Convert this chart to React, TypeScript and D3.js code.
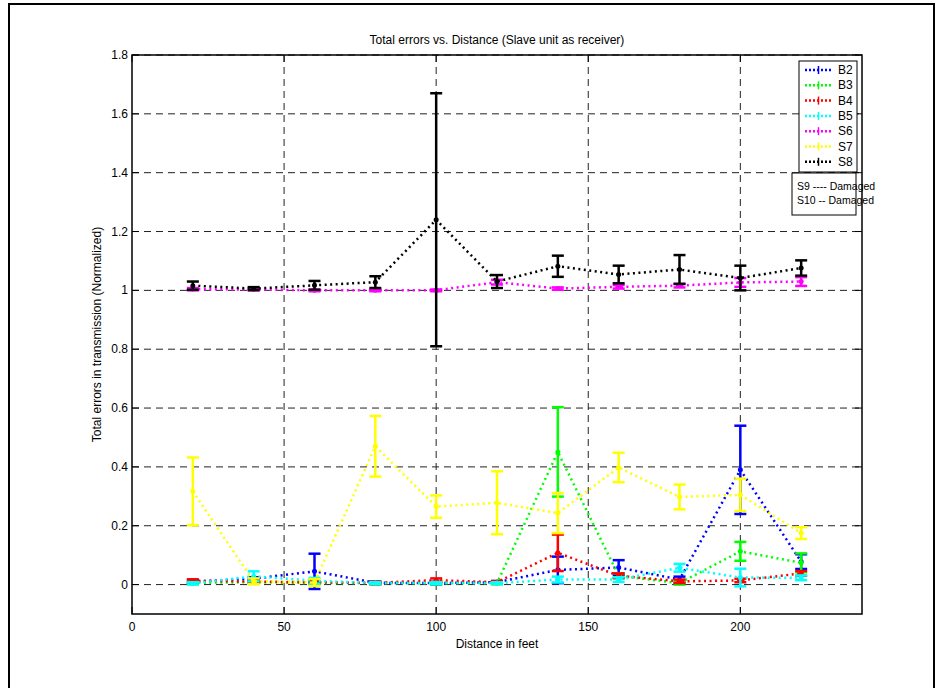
import * as d3 from "d3";
import React from "react";

const distances = [20, 40, 60, 80, 100, 120, 140, 160, 180, 200, 220];

const seriesNames = ["B2", "B3", "B4", "B5", "S6", "S7", "S8"];
const seriesColors = ["#0000ff", "#00ff00", "#ff0000", "#00ffff", "#ff00ff", "#ffff00", "#000000"];

const b2Mean = [0.01, 0.02, 0.045, 0.006, 0.005, 0.008, 0.05, 0.058, 0.017, 0.39, 0.078];
const b2Err = [0.005, 0.005, 0.06, 0.004, 0.004, 0.004, 0.045, 0.025, 0.01, 0.15, 0.025];
const b3Mean = [0.006, 0.008, 0.005, 0.005, 0.005, 0.005, 0.451, 0.03, 0.005, 0.113, 0.074];
const b3Err = [0.004, 0.004, 0.004, 0.004, 0.004, 0.004, 0.152, 0.008, 0.005, 0.032, 0.032];
const b4Mean = [0.013, 0.01, 0.008, 0.006, 0.015, 0.008, 0.108, 0.03, 0.011, 0.014, 0.038];
const b4Err = [0.005, 0.004, 0.004, 0.004, 0.006, 0.004, 0.062, 0.008, 0.006, 0.006, 0.008];
const b5Mean = [0.004, 0.028, 0.013, 0.005, 0.005, 0.005, 0.017, 0.017, 0.057, 0.024, 0.023];
const b5Err = [0.004, 0.017, 0.01, 0.003, 0.003, 0.003, 0.01, 0.008, 0.013, 0.03, 0.008];
const s6Mean = [1.004, 1.003, 1.0, 1.0, 1.0, 1.028, 1.006, 1.012, 1.016, 1.027, 1.03];
const s6Err = [0.004, 0.003, 0.003, 0.003, 0.003, 0.008, 0.004, 0.006, 0.006, 0.015, 0.015];
const s7Mean = [0.317, 0.011, 0.007, 0.47, 0.265, 0.278, 0.243, 0.398, 0.298, 0.305, 0.175];
const s7Err = [0.115, 0.01, 0.012, 0.103, 0.038, 0.107, 0.068, 0.05, 0.042, 0.055, 0.02];
const s8Mean = [1.016, 1.006, 1.017, 1.028, 1.24, 1.03, 1.082, 1.054, 1.071, 1.042, 1.076];
const s8Err = [0.014, 0.005, 0.015, 0.02, 0.43, 0.022, 0.036, 0.03, 0.049, 0.042, 0.026];

const means = [b2Mean, b3Mean, b4Mean, b5Mean, s6Mean, s7Mean, s8Mean];
const errs = [b2Err, b3Err, b4Err, b5Err, s6Err, s7Err, s8Err];

const xTicks = [0, 50, 100, 150, 200];
const yTicks = [0, 0.2, 0.4, 0.6, 0.8, 1, 1.2, 1.4, 1.6, 1.8];
const damagedNotes = ["S9 ---- Damaged", "S10 -- Damaged"];

const width = 940;
const height = 688;
const marginLeft = 132;
const marginRight = 78;
const marginTop = 55;
const marginBottom = 74;
const font = "'Liberation Sans', Arial, sans-serif";

export default function App() {
  const x = d3.scaleLinear([0, 240], [marginLeft, width - marginRight]);
  const y = d3.scaleLinear([-0.1, 1.8], [height - marginBottom, marginTop]);
  const line = d3.line<number>((d, i) => x(distances[i]), (d) => y(d));
  const [x0, x1] = x.range();
  const [y0, y1] = y.range();
  const tickLen = 7;
  const capW = 6;

  return (
    <svg width={width} height={height} style={{ position: "absolute", left: 0, top: 0, background: "#fff" }} fontFamily={font}>
      {/* figure frame */}
      <rect x={9} y={4} width={925} height={700} fill="none" stroke="#000" strokeWidth={2} />

      {/* grid */}
      <g stroke="#222" strokeWidth={1} strokeDasharray="7 5">
        {xTicks.filter((t) => t > 0).map((t) => (
          <line key={"gx" + t} x1={x(t)} x2={x(t)} y1={y0} y2={y1} />
        ))}
        {yTicks.map((t) => (
          <line key={"gy" + t} x1={x0} x2={x1} y1={y(t)} y2={y(t)} />
        ))}
      </g>

      {/* series */}
      {means.map((m, si) => (
        <g key={seriesNames[si]} stroke={seriesColors[si]} fill={seriesColors[si]}>
          <path d={line(m) || ""} fill="none" strokeWidth={2.5} strokeDasharray="2 3.5" />
          {m.map((v, i) => {
            const cx = x(distances[i]);
            const top = y(v + errs[si][i]);
            const bot = y(v - errs[si][i]);
            return (
              <g key={i} strokeWidth={2.5}>
                <line x1={cx} x2={cx} y1={top} y2={bot} />
                <line x1={cx - capW} x2={cx + capW} y1={top} y2={top} />
                <line x1={cx - capW} x2={cx + capW} y1={bot} y2={bot} />
                <circle cx={cx} cy={y(v)} r={2.5} stroke="none" />
              </g>
            );
          })}
        </g>
      ))}

      {/* axes box and ticks */}
      <rect x={x0} y={y1} width={x1 - x0} height={y0 - y1} fill="none" stroke="#000" strokeWidth={1.5} />
      <g stroke="#000" strokeWidth={1}>
        {xTicks.map((t) => (
          <g key={"tx" + t}>
            <line x1={x(t)} x2={x(t)} y1={y0} y2={y0 - tickLen} />
            <line x1={x(t)} x2={x(t)} y1={y1} y2={y1 + tickLen} />
          </g>
        ))}
        {yTicks.map((t) => (
          <g key={"ty" + t}>
            <line x1={x0} x2={x0 + tickLen} y1={y(t)} y2={y(t)} />
            <line x1={x1} x2={x1 - tickLen} y1={y(t)} y2={y(t)} />
          </g>
        ))}
      </g>
      <g fontSize={12} fill="#000">
        {xTicks.map((t) => (
          <text key={"lx" + t} x={x(t)} y={y0 + 17} textAnchor="middle">{t}</text>
        ))}
        {yTicks.map((t) => (
          <text key={"ly" + t} x={x0 - 4} y={y(t) + 4} textAnchor="end">{d3.format("~g")(+t.toFixed(1))}</text>
        ))}
      </g>

      <text x={(x0 + x1) / 2} y={44} fontSize={12} textAnchor="middle">Total errors vs. Distance (Slave unit as receiver)</text>
      <text x={(x0 + x1) / 2} y={y0 + 34} fontSize={12} textAnchor="middle">Distance in feet</text>
      <text transform={`translate(101,${(y0 + y1) / 2}) rotate(-90)`} fontSize={12} textAnchor="middle">Total errors in transmission (Normalized)</text>

      {/* legend */}
      <g>
        <rect x={799} y={61} width={58} height={111} fill="#fff" stroke="#000" strokeWidth={1} />
        {seriesNames.map((n, i) => {
          const ly = 70 + i * 15.3;
          return (
            <g key={n} stroke={seriesColors[i]} fill={seriesColors[i]}>
              <line x1={805} x2={832} y1={ly} y2={ly} strokeWidth={2.5} strokeDasharray="2 2" />
              <line x1={818.5} x2={818.5} y1={ly - 4} y2={ly + 4} strokeWidth={1.5} />
              <text x={838} y={ly + 4} fontSize={12} stroke="none" fill="#000">{n}</text>
            </g>
          );
        })}
      </g>
      <g>
        <rect x={792} y={173} width={64} height={42} fill="#fff" stroke="#000" strokeWidth={1} />
        {damagedNotes.map((s, i) => (
          <text key={s} x={797} y={190 + i * 13.5} fontSize={10.5} fill="#000">{s}</text>
        ))}
      </g>
    </svg>
  );
}
